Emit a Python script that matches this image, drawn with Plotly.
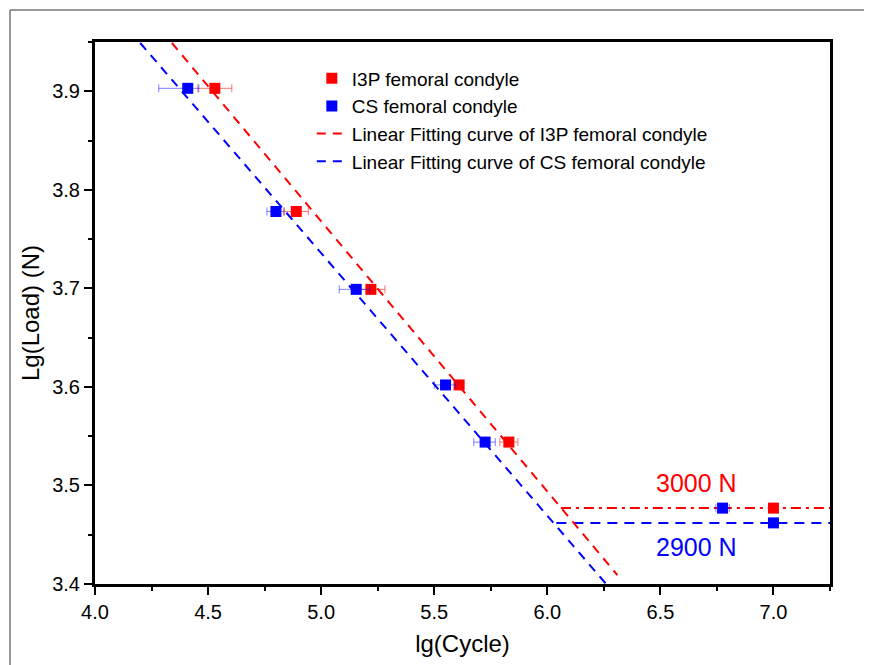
import plotly.graph_objects as go

# lg(cycle) / lg(load) data
i3p_x = [4.53, 4.89, 5.22, 5.61, 5.83, 7.00]
i3p_y = [3.903, 3.778, 3.699, 3.602, 3.544, 3.477]
i3p_err = [0.075, 0.053, 0.062, 0.02, 0.04, 0.0]

cs_x = [4.41, 4.80, 5.155, 5.55, 5.725, 6.775, 7.00]
cs_y = [3.903, 3.778, 3.699, 3.602, 3.544, 3.477, 3.462]
cs_err_plus = [0.049, 0.035, 0.06, 0.045, 0.045, 0.03, 0.0]
cs_err_minus = [0.128, 0.04, 0.075, 0.05, 0.05, 0.03, 0.0]

# fitting lines (end points)
i3p_fit_x = [4.34, 6.31]
i3p_fit_y = [3.949, 3.409]
cs_fit_x = [4.20, 6.26]
cs_fit_y = [3.949, 3.40]

# fatigue limits
i3p_lim_x = [6.06, 7.30]
i3p_lim_y = [3.477, 3.477]
cs_lim_x = [6.04, 7.30]
cs_lim_y = [3.462, 3.462]

RED = "#ff0000"
BLUE = "#0000ff"
font = "Liberation Sans, Arial, sans-serif"

fig = go.Figure()

fig.add_trace(go.Scatter(x=i3p_lim_x, y=i3p_lim_y, mode="lines", showlegend=False,
                         line=dict(color=RED, width=2, dash="10px,5px,3px,5px")))
fig.add_trace(go.Scatter(x=cs_lim_x, y=cs_lim_y, mode="lines", showlegend=False,
                         line=dict(color=BLUE, width=2, dash="10px,7px")))

fig.add_trace(go.Scatter(x=i3p_x, y=i3p_y, mode="markers", name="I3P femoral condyle",
                         marker=dict(symbol="square", size=11, color=RED),
                         error_x=dict(type="data", array=i3p_err, color="rgba(255,0,0,0.55)",
                                      thickness=1, width=4)))
fig.add_trace(go.Scatter(x=cs_x, y=cs_y, mode="markers", name="CS femoral condyle",
                         marker=dict(symbol="square", size=11, color=BLUE),
                         error_x=dict(type="data", array=cs_err_plus, arrayminus=cs_err_minus,
                                      color="rgba(0,0,255,0.5)", thickness=1, width=4)))

fig.add_trace(go.Scatter(x=i3p_fit_x, y=i3p_fit_y, mode="lines",
                         name="Linear Fitting curve of I3P femoral condyle",
                         line=dict(color=RED, width=2, dash="9px,7px")))
fig.add_trace(go.Scatter(x=cs_fit_x, y=cs_fit_y, mode="lines",
                         name="Linear Fitting curve of CS femoral condyle",
                         line=dict(color=BLUE, width=2, dash="9px,7px")))

fig.add_annotation(x=6.66, y=3.502, text="3000 N", showarrow=False,
                   font=dict(family=font, size=25, color=RED))
fig.add_annotation(x=6.66, y=3.438, text="2900 N", showarrow=False,
                   font=dict(family=font, size=25, color=BLUE))

# outer grey frame (top and left)
fig.add_shape(type="line", xref="paper", yref="paper", x0=-0.1156, x1=1.1, y0=1.059, y1=1.059,
              line=dict(color="#777777", width=1.5))
fig.add_shape(type="line", xref="paper", yref="paper", x0=-0.1156, x1=-0.1156, y0=1.059, y1=-0.2,
              line=dict(color="#777777", width=1.5))

axis_common = dict(showline=True, linewidth=3, linecolor="black", mirror=True,
                   ticks="outside", ticklen=8, tickwidth=2, tickcolor="black",
                   showgrid=False, zeroline=False,
                   tickfont=dict(family=font, size=20, color="black"))

fig.update_xaxes(range=[4.0, 7.25], dtick=0.5, tick0=4.0, tickformat=".1f",
                 title=dict(text="lg(Cycle)", font=dict(family=font, size=24, color="black"), standoff=14),
                 minor=dict(dtick=0.25, ticks="outside", ticklen=4, tickwidth=2, tickcolor="black"),
                 **axis_common)
fig.update_yaxes(range=[3.4, 3.95], dtick=0.1, tick0=3.4, tickformat=".1f",
                 title=dict(text="Lg(Load) (N)", font=dict(family=font, size=24, color="black"), standoff=6),
                 minor=dict(dtick=0.05, ticks="outside", ticklen=4, tickwidth=2, tickcolor="black"),
                 **axis_common)

fig.update_layout(
    width=864, height=657,
    margin=dict(l=87, r=42, t=34, b=81),
    paper_bgcolor="white", plot_bgcolor="white",
    font=dict(family=font, color="black"),
    legend=dict(x=0.295, y=0.968, xanchor="left", yanchor="top",
                bgcolor="rgba(0,0,0,0)", font=dict(family=font, size=19, color="black"),
                tracegroupgap=0, itemwidth=30),
)

fig.write_html("out.html")
